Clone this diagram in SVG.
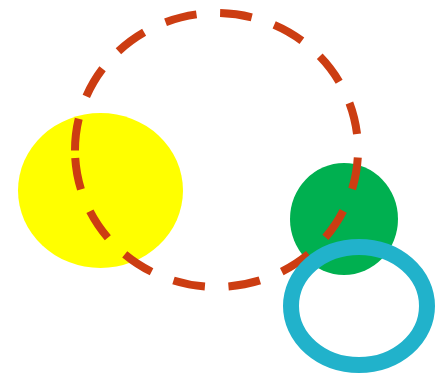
<svg xmlns="http://www.w3.org/2000/svg" width="443" height="374" viewBox="0 0 443 374">
<style>
.dash{fill:none;stroke:#cc3d12;stroke-width:8;stroke-dasharray:32 23.67}
</style>
<rect width="443" height="374" fill="#ffffff"/>
<g id="yellow"><ellipse cx="100.5" cy="190.5" rx="82.5" ry="77.5" fill="#ffff00"/></g>
<g id="green"><ellipse cx="344" cy="219" rx="54" ry="56" fill="#00b050"/></g>
<g id="dashed"><path class="dash" d="M 75.24 158 A 141.5 137 0 0 0 357.76 142 A 141.5 137 0 0 0 75.24 158"/></g>
<g id="cyan"><ellipse cx="359" cy="306" rx="68" ry="59" fill="none" stroke="#21b2cb" stroke-width="16"/></g>
</svg>
